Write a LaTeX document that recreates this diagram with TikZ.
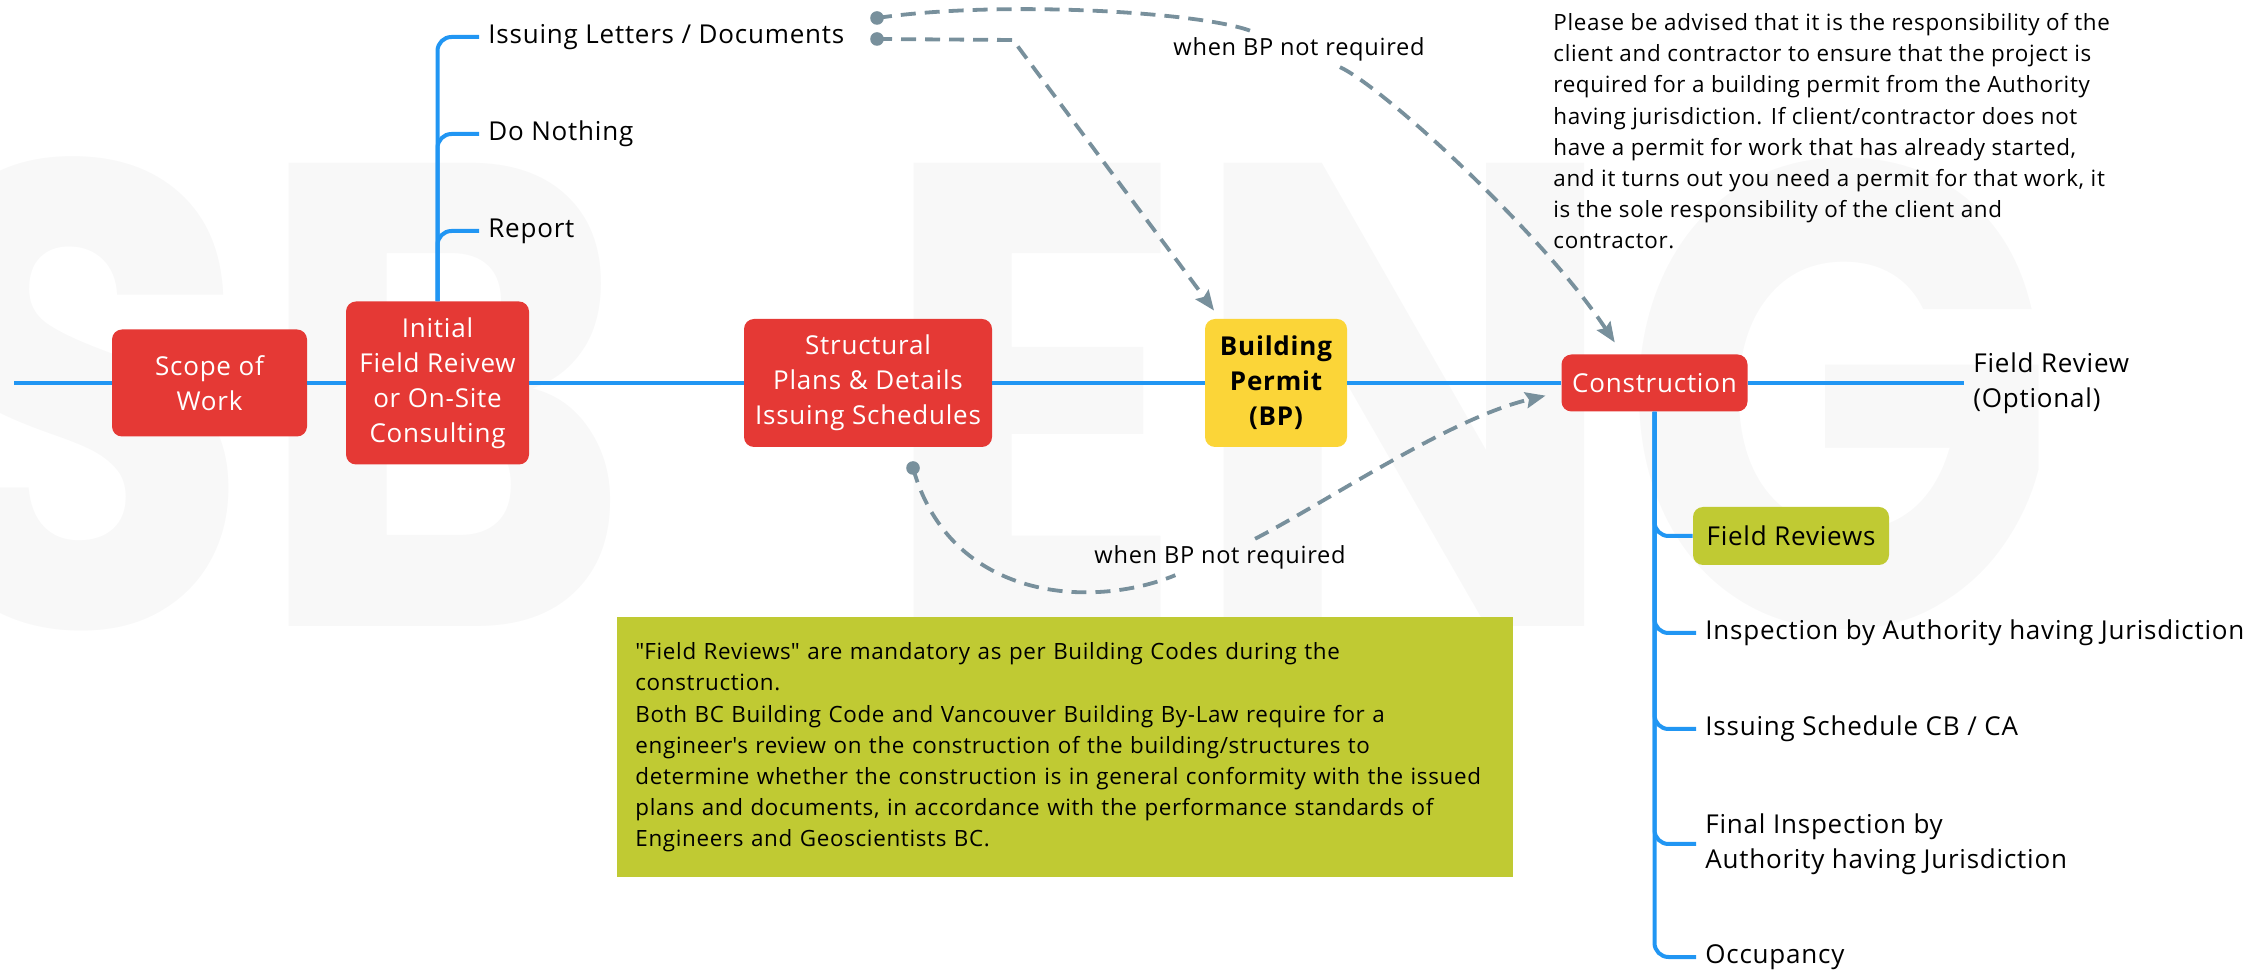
\documentclass[tikz,border=0pt]{standalone}
\usepackage{fontspec}
\setmainfont{Open Sans}[LetterSpace=3]
\newfontfamily\markfont{Poppins}
\usepackage{tikz}
\usetikzlibrary{positioning,arrows.meta}

\definecolor{boxred}{HTML}{E53935}
\definecolor{permit}{HTML}{FBD538}
\definecolor{olive}{HTML}{C0CA33}
\definecolor{branch}{HTML}{2196F3}
\definecolor{hint}{HTML}{78909C}
\definecolor{faint}{HTML}{F8F8F8}

\newcommand{\boxfont}{\fontsize{13}{17.5}\selectfont}
\newcommand{\notefont}{\fontsize{11.2}{15.6}\selectfont}

\tikzset{
  stage/.style={fill=boxred, text=white, rounded corners=5pt, inner sep=0pt, align=center, font=\boxfont},
  leaf/.style={anchor=west, inner sep=4.5pt, align=left, font=\boxfont},
  trunk/.style={draw=branch, line width=2.4pt},
  twig/.style={draw=branch, line width=2pt, rounded corners=7pt},
  hintline/.style={draw=hint, line width=1.9pt, dash pattern=on 7.5pt off 4.5pt, -{Stealth[length=10pt,width=8pt,inset=1.5pt]}},
  hintlabel/.style={inner sep=3pt, font=\fontsize{11.8}{14}\selectfont},
  wordmark/.style={anchor=base west, inner sep=0pt, xscale=0.87, text=faint, font=\markfont\bfseries\fontsize{330}{330}\selectfont}
}

\begin{document}
\begin{tikzpicture}[x=0.5pt, y=-0.5pt]
	\useasboundingbox (0,0) rectangle (2260,977);
	
	% Background lettering
	\node[wordmark] (markSB) at (-100,627) {SB};
	\node[wordmark] (markENG) at (878,627) {ENG};
	
	% Stages
	\node[stage, minimum width=97.5pt, minimum height=53.5pt] (scope) at (209.5,383) {Scope of\\Work};
	\node[stage, minimum width=91.5pt, minimum height=81.5pt] (initial) at (437.5,383) {Initial\\Field Reivew\\or On-Site\\Consulting};
	\node[stage, minimum width=124pt, minimum height=64pt] (structural) at (868,383) {Structural\\Plans \& Details\\Issuing Schedules};
	\node[stage, fill=permit, text=black, font=\boxfont\bfseries, minimum width=71pt, minimum height=64pt] (bp) at (1276,383) {Building\\Permit\\(BP)};
	\node[stage, minimum width=93pt, minimum height=28.5pt] (constr) at (1654.5,383) {Construction};
	\node[leaf] (fieldopt) at (1964,383) {Field Review\\(Optional)};
	
	% Upper branches
	\node[leaf] (letters) at (479,37) {Issuing Letters / Documents};
	\node[leaf] (nothing) at (479,134) {Do Nothing};
	\node[leaf] (report) at (479,231) {Report};
	
	% Lower branches
	\node[stage, fill=olive, text=black, minimum width=98pt, minimum height=29pt] (fieldrev) at (1791,536) {Field Reviews};
	\node[leaf] (inspect) at (1696,633) {Inspection by Authority having Jurisdiction};
	\node[leaf] (schedule) at (1696,729) {Issuing Schedule CB / CA};
	\node[leaf] (final) at (1696,844) {Final Inspection by\\Authority having Jurisdiction};
	\node[leaf] (occupancy) at (1696,957) {Occupancy};
	
	% Notes
	\node[anchor=north west, inner sep=0pt, align=left, font=\notefont] (notice) at (1553,13) {Please be advised that it is the responsibility of the\\client and contractor to ensure that the project is\\required for a building permit from the Authority\\having jurisdiction. If client/contractor does not\\have a permit for work that has already started,\\and it turns out you need a permit for that work, it\\is the sole responsibility of the client and\\contractor.};
	\node[anchor=north west, fill=olive, inner xsep=9pt, inner ysep=12pt, text width=430pt, minimum height=130pt, align=left, font=\notefont] (fieldnote) at (617,617) {\textquotedbl Field Reviews\textquotedbl{} are mandatory as per Building Codes during the\\construction.\\Both BC Building Code and Vancouver Building By-Law require for a\\engineer\textquotesingle s review on the construction of the building/structures to\\determine whether the construction is in general conformity with the issued\\plans and documents, in accordance with the performance standards of\\Engineers and Geoscientists BC.};
	
	% Draw Lines
	\coordinate (start) at (14,383);
	\draw[trunk] (start) -- (scope) -- (initial) -- (structural) -- (bp) -- (constr) -- (fieldopt.west);
	\foreach \leafname in {letters, nothing, report}
		\draw[twig] (initial.north) |- (\leafname.west);
	\foreach \leafname in {fieldrev, inspect, schedule, final, occupancy}
		\draw[twig] (constr.south) |- (\leafname.west);
	
	% Dashed hints
	\coordinate (d1) at (877,18);
	\coordinate (d2) at (877,39);
	\coordinate (d3) at (913,468);
	\node[hintlabel] (hintA) at (1299,49) {when BP not required};
	\node[hintlabel] (hintB) at (1220,557) {when BP not required};
	\draw[hintline, shorten >=7pt] (d1) .. controls (1000,0) and (1200,12) .. (hintA) .. controls (1380,85) and (1540,230) .. ([xshift=-16pt]constr.north);
	\draw[hintline, shorten >=5pt] (d2) -- (1013,40) -- ([xshift=-28pt]bp.north);
	\draw[hintline, shorten >=8pt] (d3) .. controls (950,600) and (1090,610) .. (hintB) .. controls (1330,500) and (1450,418) .. ([yshift=-4.5pt]constr.west);
	\foreach \dotname in {d1, d2, d3}
		\fill[hint] (\dotname) circle (3.4pt);
	
\end{tikzpicture}
\end{document}
